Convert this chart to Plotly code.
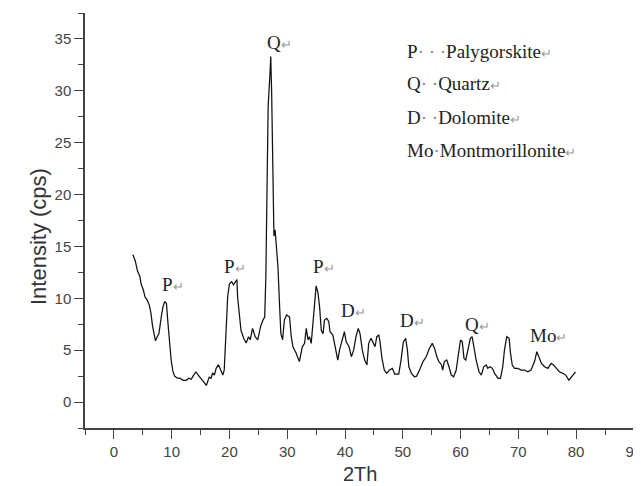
import plotly.graph_objects as go

two_theta = [3.3, 3.7, 4.1, 4.5, 4.7, 5.1, 5.4, 5.7, 6.15, 6.4, 6.7, 7.0, 7.2, 7.5, 7.8, 8.2, 8.5, 8.8, 9.1, 9.3,
             9.5, 9.9, 10.2, 10.5, 11.0, 11.4, 12.0, 12.5, 13.0, 13.4, 13.8, 14.2, 14.6, 15.1, 15.6, 16.0, 16.5,
             16.8, 17.1, 17.4, 17.7, 18.1, 18.5, 18.85, 19.1, 19.4, 19.7, 20.0, 20.4, 20.7, 21.0, 21.3, 21.4,
             21.7, 22.0, 22.5, 22.9, 23.3, 23.6, 24.0, 24.45, 24.9, 25.4, 25.8, 26.1, 26.3, 26.5, 26.7, 27.0,
             27.15, 27.3, 27.4, 27.5, 27.7, 27.9, 28.1, 28.4, 28.66, 28.9, 29.2, 29.5, 29.9, 30.4, 30.7, 31.0,
             31.55, 32.1, 32.6, 33.0, 33.3, 33.6, 33.85, 34.15, 34.4, 34.7, 35.0, 35.3, 35.6, 35.9, 36.2, 36.45,
             36.85, 37.2, 37.4, 37.9, 38.35, 38.75, 39.05, 39.5, 39.9, 40.2, 40.7, 41.1, 41.5, 41.9, 42.3, 42.6,
             43.0, 43.4, 43.8, 44.1, 44.5, 44.8, 45.2, 45.5, 45.85, 46.1, 46.4, 46.8, 47.2, 47.7, 48.2, 48.6,
             49.3, 49.7, 50.1, 50.5, 50.8, 51.05, 51.5, 52.0, 52.4, 52.9, 53.5, 54.05, 54.6, 55.1, 55.5, 55.9,
             56.25, 56.7, 56.9, 57.2, 57.6, 58.0, 58.4, 58.8, 59.25, 59.65, 60.0, 60.3, 60.6, 60.9, 61.3, 61.7,
             62.0, 62.3, 62.7, 63.2, 63.6, 64.0, 64.45, 64.7, 65.1, 65.5, 65.9, 66.5, 66.9, 67.3, 67.6, 68.0,
             68.4, 68.65, 68.95, 69.35, 69.9, 70.5, 71.1, 71.65, 72.2, 72.8, 73.2, 73.55, 74.0, 74.55, 75.1,
             75.7, 76.1, 76.6, 77.1, 77.7, 78.2, 78.75, 79.3, 79.9]
intensity = [14.2, 13.6, 12.6, 12.1, 11.4, 10.8, 10.1, 9.9, 9.3, 8.6, 7.3, 6.3, 5.9, 6.3, 6.6, 8.2, 9.2, 9.7, 9.5, 8.0,
             6.6, 4.1, 3.0, 2.5, 2.3, 2.3, 2.1, 2.1, 2.3, 2.2, 2.6, 2.9, 2.6, 2.3, 1.9, 1.6, 2.4,
             2.3, 2.8, 2.6, 3.25, 3.6, 3.1, 2.6, 3.1, 6.9, 10.2, 11.4, 11.6, 11.3, 11.6, 11.8, 10.2,
             8.5, 6.9, 6.1, 5.7, 6.3, 6.0, 7.1, 6.3, 6.0, 7.3, 7.9, 8.2, 12.0, 22.0, 28.5, 31.5,
             33.3, 30.0, 25.0, 20.0, 16.0, 16.6, 15.2, 13.0, 9.5, 6.6, 6.0, 7.9, 8.4, 8.2, 6.3, 5.3,
             4.7, 3.9, 5.3, 5.66, 7.1, 6.0, 6.3, 5.66, 7.26, 9.5, 11.2, 10.6, 9.2, 6.9, 6.6, 7.9,
             8.07, 7.74, 6.78, 6.46, 5.33, 4.05, 5.0, 6.0, 6.78, 5.8, 5.33, 4.37, 5.0, 6.3, 7.1, 6.6,
             5.0, 4.05, 3.57, 5.66, 6.14, 5.8, 5.33, 6.3, 6.46, 5.66, 4.2, 3.09, 2.77, 3.09, 3.25, 2.7,
             2.7, 4.05, 5.8, 6.14, 5.0, 3.4, 2.77, 2.44, 2.5, 3.09, 3.9, 4.37, 5.17, 5.66, 5.17, 4.37,
             3.9, 3.6, 3.09, 3.9, 4.05, 3.4, 2.6, 2.44, 3.09, 4.7, 5.98, 5.8, 4.2, 4.05, 5.0, 6.14,
             6.3, 5.33, 4.05, 2.92, 2.6, 3.4, 3.57, 3.25, 3.4, 3.25, 2.77, 2.29, 2.29, 3.4, 5.0, 6.3,
             6.14, 4.7, 3.57, 3.25, 3.25, 3.09, 3.09, 2.92, 3.09, 3.9, 4.85, 4.37, 3.73, 3.4, 3.25,
             3.73, 3.57, 3.25, 2.92, 2.77, 2.6, 2.12, 2.5, 2.92]

peak_labels = ["P", "P", "Q", "P", "D", "D", "Q", "Mo"]
peak_label_x = [8.05, 18.67, 26.2, 34.1, 38.9, 49.1, 60.4, 71.65]
peak_label_y = [11.3, 13.05, 34.7, 13.05, 8.87, 7.9, 7.5, 6.4]

legend_codes = ["P", "Q", "D", "Mo"]
legend_dots = ["\u00b7 \u00b7 \u00b7", "\u00b7 \u00b7", "\u00b7 \u00b7", "\u00b7"]
legend_names = ["Palygorskite", "Quartz", "Dolomite", "Montmorillonite"]

x_tick_values = [0, 10, 20, 30, 40, 50, 60, 70, 80, 90]
x_title = "2Th"
y_title = "Intensity (cps)"

RET = "<span style='color:#9a9a9a;font-size:13px'>\u21b5</span>"
SERIF = "Liberation Serif"
SANS = "Liberation Sans"
AXC = "#444444"

fig = go.Figure()
fig.add_trace(go.Scatter(x=two_theta, y=intensity, mode="lines",
                         line=dict(color="#111111", width=1.25), showlegend=False))

annotations = []
for t, xx, yy in zip(peak_labels, peak_label_x, peak_label_y):
    annotations.append(dict(x=xx, y=yy, xref="x", yref="y", text=t + RET, showarrow=False,
                            xanchor="left", yanchor="middle",
                            font=dict(family=SERIF, size=19, color="#222222")))

leg_y = [0.907, 0.829, 0.749, 0.668]
for c, d, n, yy in zip(legend_codes, legend_dots, legend_names, leg_y):
    annotations.append(dict(x=0.583, y=yy, xref="paper", yref="paper",
                            text=c + "<span style='color:#888888'>" + d + "</span>" + n + RET,
                            showarrow=False, xanchor="left", yanchor="middle",
                            font=dict(family=SERIF, size=19, color="#222222")))

annotations.append(dict(x=0.5, y=-0.112, xref="paper", yref="paper", text=x_title, showarrow=False,
                        xanchor="center", yanchor="middle", font=dict(family=SANS, size=20, color="#333333")))
annotations.append(dict(x=-0.085, y=0.461, xref="paper", yref="paper", text=y_title, showarrow=False,
                        textangle=-90, xanchor="center", yanchor="middle",
                        font=dict(family=SANS, size=22, color="#333333")))

# The page body has an 8px default margin, so the figure is sized/offset to land in the window.
fig.update_layout(
    width=633, height=478, autosize=False,
    margin=dict(l=77, r=7, t=5, b=58, autoexpand=False),
    paper_bgcolor="white", plot_bgcolor="white",
    annotations=annotations,
    xaxis=dict(range=[-5, 90.02], tickmode="array", tickvals=x_tick_values,
               ticktext=[str(v) for v in x_tick_values], ticklabeloverflow="allow", automargin=False,
               ticks="outside", ticklen=9, tickwidth=1.3, tickcolor=AXC,
               showline=True, linecolor=AXC, linewidth=1.5,
               showgrid=False, zeroline=False,
               minor=dict(ticks="outside", ticklen=5, tickwidth=1.3, tickcolor=AXC, dtick=5, tick0=0, showgrid=False),
               tickfont=dict(family=SANS, size=15, color="#444444")),
    yaxis=dict(range=[-2.5, 37.5], tickmode="linear", tick0=0, dtick=5, automargin=False,
               ticks="outside", ticklen=9, tickwidth=1.3, tickcolor=AXC,
               showline=True, linecolor=AXC, linewidth=1.5,
               showgrid=False, zeroline=False,
               minor=dict(ticks="outside", ticklen=5, tickwidth=1.3, tickcolor=AXC, dtick=2.5, tick0=0, showgrid=False),
               tickfont=dict(family=SANS, size=15, color="#444444")),
)

fig.write_html("out.html")
